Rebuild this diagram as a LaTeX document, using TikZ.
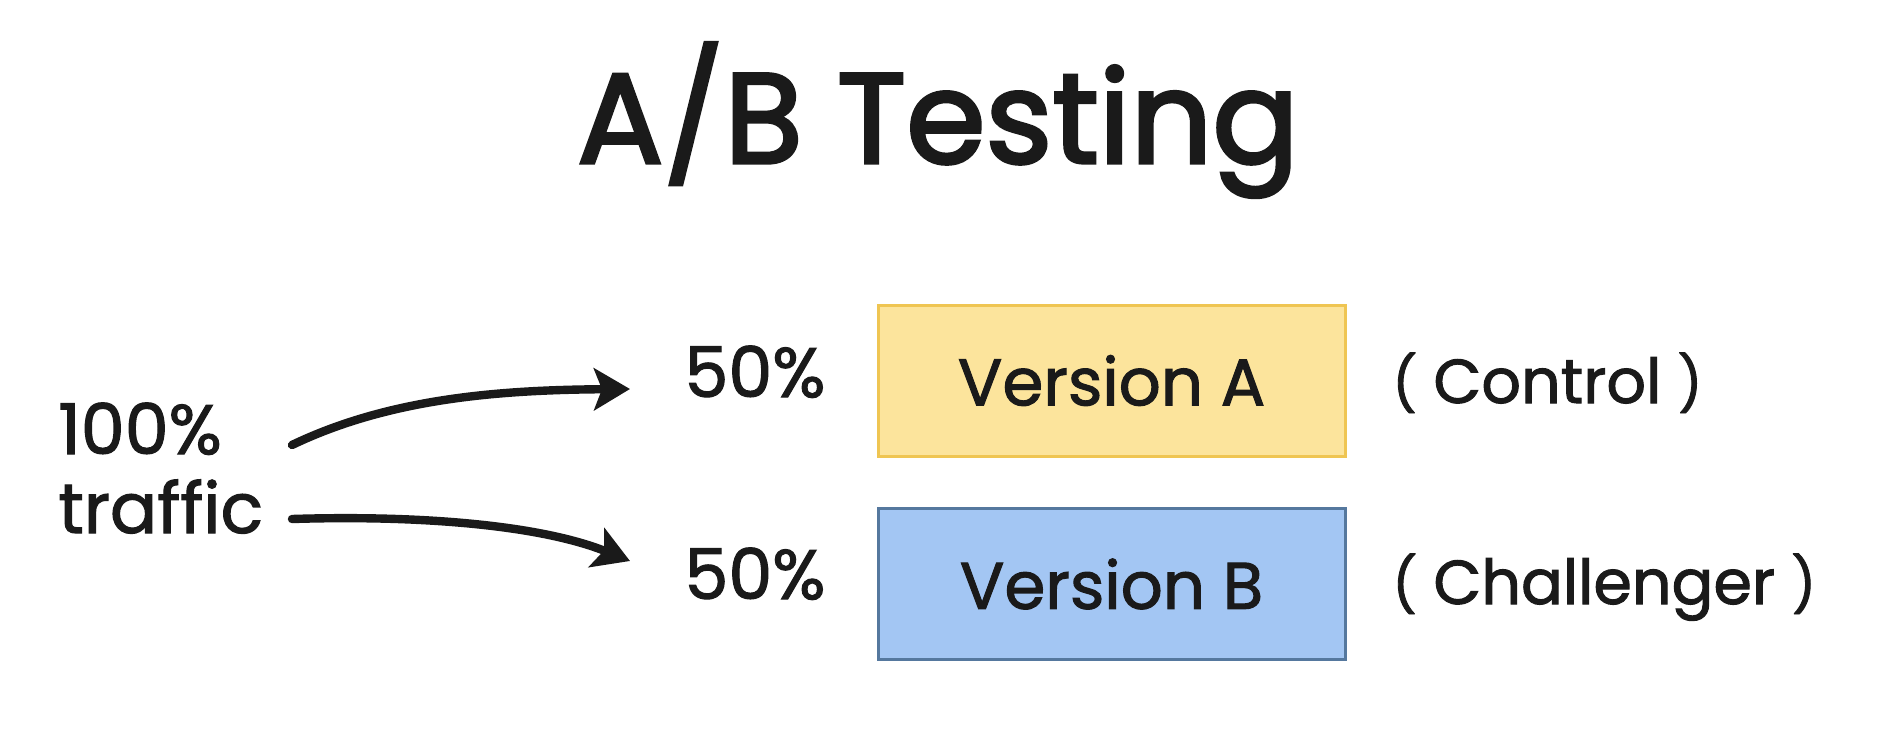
\documentclass[tikz,border=0pt]{standalone}
\usepackage{fontspec}
\setmainfont{Poppins}[FakeBold=1.6]
\newfontfamily\titlefont{Poppins}[FakeBold=2.6]
\usetikzlibrary{arrows.meta}
\definecolor{yfill}{HTML}{FCE49C}
\definecolor{ydraw}{HTML}{EFC552}
\definecolor{bfill}{HTML}{A3C6F3}
\definecolor{bdraw}{HTML}{55789E}
\definecolor{ink}{HTML}{1A1A1A}
\newcommand{\smallparen}[1]{{\fontsize{27}{30}\selectfont #1}}
\begin{document}
\begin{tikzpicture}[x=0.5pt,y=-0.5pt,
  lbl/.style={inner sep=0pt,font=\fontsize{35}{40}\selectfont,text=ink},
  side/.style={inner sep=0pt,font=\fontsize{31}{36}\selectfont,text=ink},
  vbox/.style={draw,line width=1.5pt,minimum width=233.5pt,minimum height=75.5pt,inner sep=0pt,font=\fontsize{33}{38}\selectfont,text=ink},
  flow/.style={line width=4.2pt,-{Stealth[length=18pt,width=21pt,inset=4pt]},line cap=round,draw=ink}]
\useasboundingbox (0,0) rectangle (1898,728);
\node[inner sep=0pt,anchor=base,font=\titlefont\fontsize{64}{70}\selectfont,text=ink] (title) at (938,163) {A/B Testing};
\node[lbl,anchor=base west] (h100) at (58,454) {100\%};
\node[lbl,anchor=base west] (traffic) at (58,533) {traffic};
\node[lbl,anchor=base west] (pa) at (684,397) {50\%};
\node[lbl,anchor=base west] (pb) at (684,599) {50\%};
\node[vbox,fill=yfill,draw=ydraw] (va) at (1111.5,380.5) {Version A};
\node[vbox,fill=bfill,draw=bdraw] (vb) at (1111.5,584) {Version B};
\node[side,anchor=base west] (ctrl) at (1392,403) {\smallparen{(} Control \smallparen{)}};
\node[side,anchor=base west] (chal) at (1392,604) {\smallparen{(} Challenger \smallparen{)}};
\coordinate (s1) at (292,445);
\coordinate (e1) at (630,389);
\coordinate (s2) at (292,519);
\coordinate (e2) at (630,561);
\draw[flow] (s1) .. controls (390,398) and (500,390) .. (e1);
\draw[flow] (s2) .. controls (420,515) and (540,525) .. (e2);
\end{tikzpicture}
\end{document}
